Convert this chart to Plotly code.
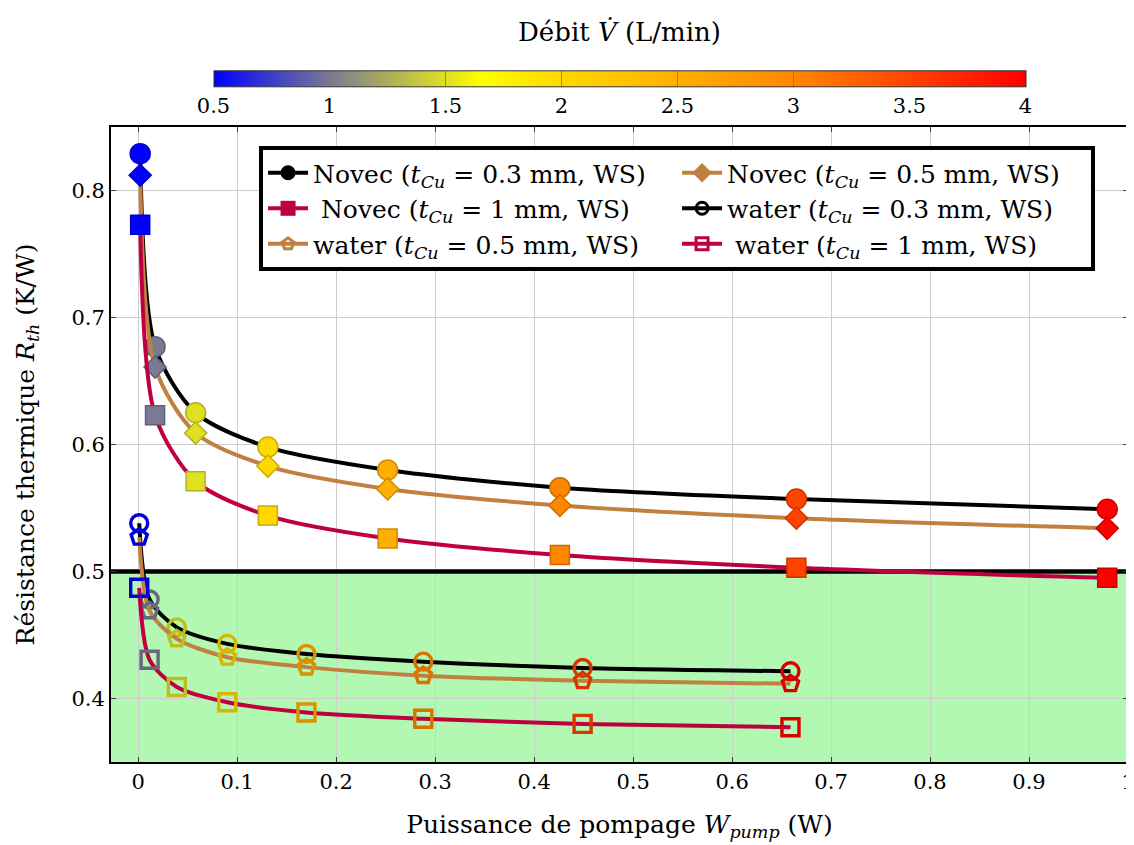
import plotly.graph_objects as go
from plotly.colors import sample_colorscale, unlabel_rgb

# ---------------- data ----------------
flow = [0.5, 1.0, 1.5, 2.0, 2.5, 3.0, 3.5, 4.0]  # L/min

novec_x = [0.002, 0.017, 0.058, 0.131, 0.252, 0.426, 0.665, 0.979]
novec_03 = [0.829, 0.677, 0.625, 0.598, 0.580, 0.566, 0.557, 0.549]
novec_05 = [0.812, 0.661, 0.609, 0.583, 0.565, 0.552, 0.542, 0.534]
novec_1 = [0.773, 0.623, 0.571, 0.544, 0.526, 0.513, 0.503, 0.495]

water_x = [0.001, 0.0115, 0.039, 0.090, 0.170, 0.288, 0.449, 0.659]
water_03 = [0.538, 0.478, 0.456, 0.443, 0.435, 0.429, 0.424, 0.4215]
water_05 = [0.527, 0.469, 0.447, 0.4325, 0.4247, 0.418, 0.414, 0.4116]
water_1 = [0.4872, 0.4305, 0.409, 0.397, 0.389, 0.384, 0.380, 0.3774]

names = [
    "Novec (<i>t</i><sub><i>Cu</i></sub> = 0.3 mm, WS)",
    "Novec (<i>t</i><sub><i>Cu</i></sub> = 0.5 mm, WS)",
    " Novec (<i>t</i><sub><i>Cu</i></sub> = 1 mm, WS)",
    "water (<i>t</i><sub><i>Cu</i></sub> = 0.3 mm, WS)",
    "water (<i>t</i><sub><i>Cu</i></sub> = 0.5 mm, WS)",
    " water (<i>t</i><sub><i>Cu</i></sub> = 1 mm, WS)",
]

threshold = 0.5  # K/W limit
x_range = [-0.0275, 1.0]
y_range = [0.35, 0.85]

flow_ticks = [0.5, 1, 1.5, 2, 2.5, 3, 3.5, 4]
flow_ticktext = ["0.5", "1", "1.5", "2", "2.5", "3", "3.5", "4"]
x_ticks = [0, 0.1, 0.2, 0.3, 0.4, 0.5, 0.6, 0.7, 0.8, 0.9, 1]
x_ticktext = ["0", "0.1", "0.2", "0.3", "0.4", "0.5", "0.6", "0.7", "0.8", "0.9", "1"]
y_ticks = [0.4, 0.5, 0.6, 0.7, 0.8]
y_ticktext = ["0.4", "0.5", "0.6", "0.7", "0.8"]

# ---------------- style ----------------
FONT = "DejaVu Serif"
BLACK = "rgb(0,0,0)"
COPPER = "rgb(191,128,64)"
CRIMSON = "rgb(191,0,64)"
CMIN, CMAX = 0.5, 4.0
cscale = [
    [0.0, "rgb(0,0,255)"],
    [0.143, "rgb(122,122,148)"],
    [0.33, "rgb(255,255,0)"],
    [0.43, "rgb(255,215,0)"],
    [0.714, "rgb(255,135,0)"],
    [1.0, "rgb(255,0,0)"],
]


def mapped(vals, k=1.0):
    pts = [(v - CMIN) / (CMAX - CMIN) for v in vals]
    out = []
    for c in sample_colorscale(cscale, pts):
        r, g, b = unlabel_rgb(c)
        out.append(f"rgb({int(r*k)},{int(g*k)},{int(b*k)})")
    return out


series = [
    (novec_x, novec_03, BLACK, "circle", 20, True),
    (novec_x, novec_05, COPPER, "diamond", 17, True),
    (novec_x, novec_1, CRIMSON, "square", 19, True),
    (water_x, water_03, BLACK, "circle-open", 17, False),
    (water_x, water_05, COPPER, "pentagon-open", 17, False),
    (water_x, water_1, CRIMSON, "square-open", 17, False),
]

fig = go.Figure()

# threshold line (under the data)
fig.add_trace(go.Scatter(x=x_range, y=[threshold, threshold], mode="lines",
                         line=dict(color="black", width=4.5), showlegend=False,
                         hoverinfo="skip", cliponaxis=True))

for i, (xs, ys, lc, sym, sz, filled) in enumerate(series):
    if filled:
        marker = dict(symbol=sym, size=sz, color=flow, colorscale=cscale,
                      cmin=CMIN, cmax=CMAX,
                      line=dict(color=mapped(flow, 0.8), width=1.5))
    else:
        marker = dict(symbol=sym, size=sz, color=mapped(flow, 0.85),
                      line=dict(width=3.4))
    if i == 0:
        marker.update(showscale=True, colorbar=dict(
            orientation="h", x=0.5, xanchor="center", y=0.987, yanchor="bottom",
            len=812, lenmode="pixels", thickness=16, thicknessmode="pixels",
            outlinecolor="#333", outlinewidth=1,
            tickvals=flow_ticks, ticktext=flow_ticktext,
            ticks="inside", ticklen=16, tickcolor="rgba(120,120,120,0.8)", tickwidth=1,
            tickfont=dict(family=FONT, size=21, color="black"),
            ypad=0, xpad=0,
        ))
    fig.add_trace(go.Scatter(
        x=xs, y=ys, mode="lines+markers",
        line=dict(color=lc, width=4, shape="spline", smoothing=0.8),
        marker=marker, showlegend=False, hoverinfo="skip",
    ))

# legend entries
for (xs, ys, lc, sym, sz, filled), nm in zip(series, names):
    fig.add_trace(go.Scatter(
        x=[None], y=[None], mode="lines+markers", name=nm,
        line=dict(color=lc, width=4),
        marker=dict(symbol=sym, size=15 if filled else 12, color=lc,
                    line=dict(width=3 if not filled else 0, color=lc)),
    ))

# green acceptable zone
fig.add_shape(type="rect", xref="paper", x0=0, x1=1, y0=y_range[0], y1=threshold,
              fillcolor="rgba(0,230,0,0.3)", line=dict(width=0), layer="between")

# colour bar title
fig.add_annotation(text="Débit <i>V̇</i> (L/min)", xref="paper", yref="paper",
                   x=0.5, y=1.1496, xanchor="center", yanchor="middle",
                   showarrow=False, font=dict(family=FONT, size=26, color="black"))

axis_common = dict(
    showgrid=True, gridcolor="rgb(205,205,205)", gridwidth=1,
    showline=True, linecolor="black", linewidth=2, mirror="ticks",
    ticks="inside", ticklen=5, tickcolor="rgb(60,60,60)", tickwidth=1,
    zeroline=False, ticklabeloverflow="allow",
    tickfont=dict(family=FONT, size=21, color="black"),
)

fig.update_xaxes(range=x_range, tickvals=x_ticks, ticktext=x_ticktext,
                 title=dict(text="Puissance de pompage <i>W</i><sub><i>pump</i></sub> (W)",
                            font=dict(family=FONT, size=25, color="black"), standoff=22),
                 **axis_common)
fig.update_yaxes(range=y_range, tickvals=y_ticks, ticktext=y_ticktext,
                 title=dict(text="Résistance thermique <i>R</i><sub><i>th</i></sub> (K/W)",
                            font=dict(family=FONT, size=25, color="black"), standoff=30),
                 **axis_common)

fig.update_layout(
    width=1126, height=837,
    margin=dict(l=103, r=6, t=119, b=83, autoexpand=False),
    paper_bgcolor="white", plot_bgcolor="white",
    font=dict(family=FONT, color="black"),
    legend=dict(
        orientation="h", x=0.9676, xanchor="right", y=0.970, yanchor="top",
        bgcolor="white", bordercolor="black", borderwidth=4,
        font=dict(family=FONT, size=25, color="black"),
        entrywidth=359, entrywidthmode="pixels", itemwidth=40,
        tracegroupgap=0,
    ),
)

fig.write_html("out.html")
